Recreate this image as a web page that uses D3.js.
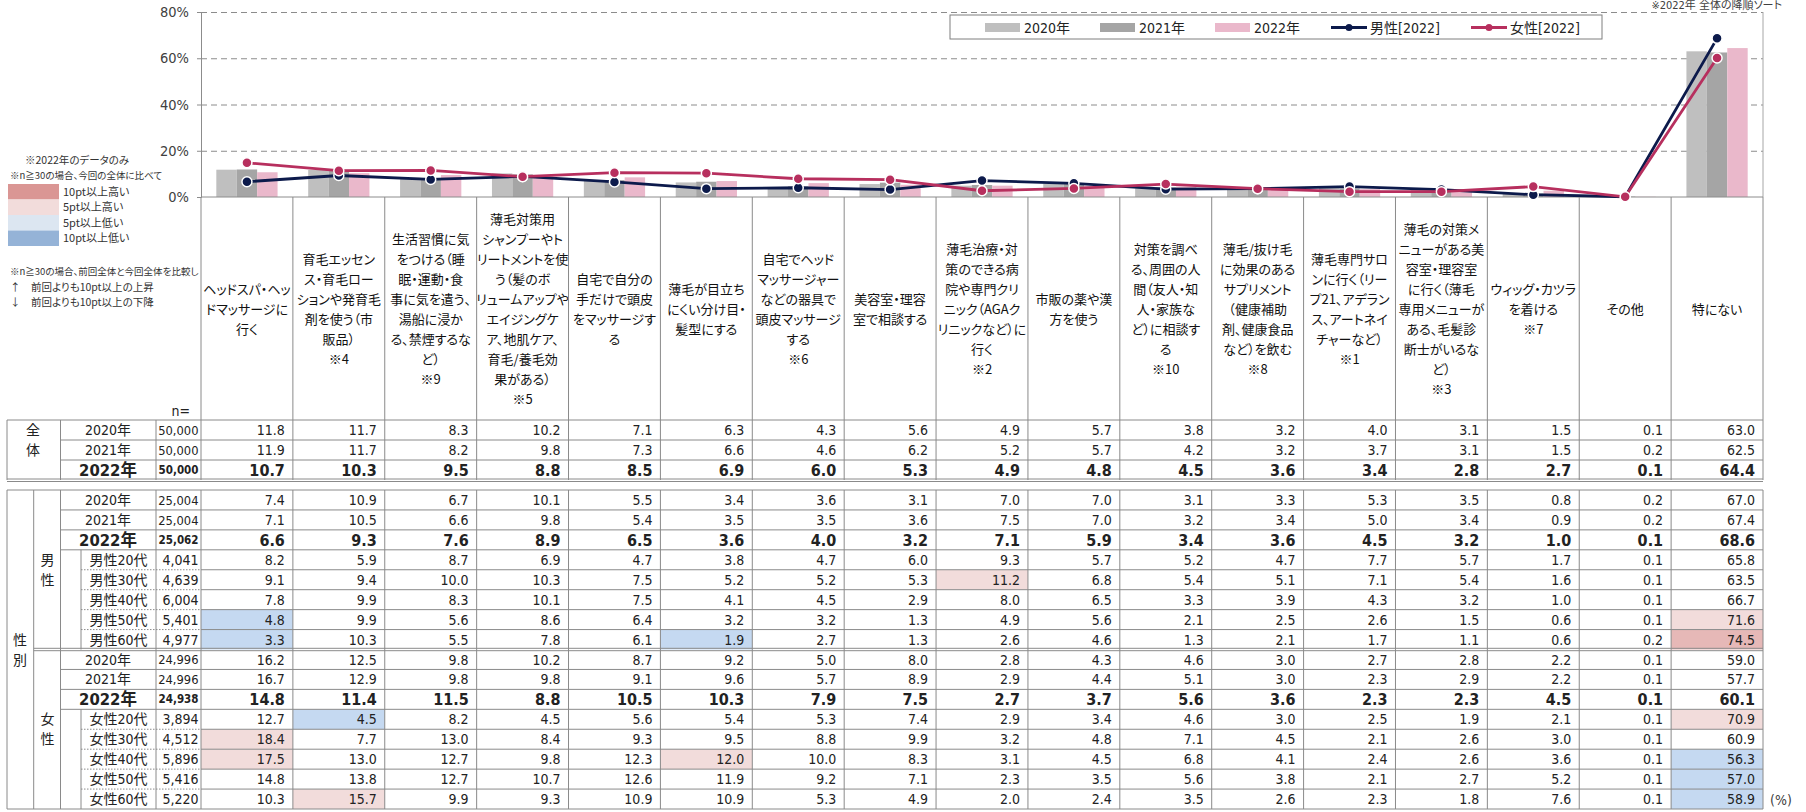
<!DOCTYPE html>
<html><head><meta charset="utf-8">
<script src="https://cdn.jsdelivr.net/npm/d3@7"></script>
<style>
body{margin:0;background:#fff;}
svg{display:block;font-feature-settings:"palt";}
</style></head><body>
<svg id="c" width="1806" height="812"></svg>
<script>
// ---------------- DATA ----------------
const categories = [
  "ヘッドスパ・ヘッ\nドマッサージに\n行く",
  "育毛エッセン\nス・育毛ロー\nションや発育毛\n剤を使う（市\n販品）\n※4",
  "生活習慣に気\nをつける（睡\n眠・運動・食\n事に気を遣う、\n湯船に浸か\nる、禁煙するな\nど）\n※9",
  "薄毛対策用\nシャンプーやト\nリートメントを使\nう（髪のボ\nリュームアップや\nエイジングケ\nア、地肌ケア、\n育毛/養毛効\n果がある）\n※5",
  "自宅で自分の\n手だけで頭皮\nをマッサージす\nる",
  "薄毛が目立ち\nにくい分け目・\n髪型にする",
  "自宅でヘッド\nマッサージャー\nなどの器具で\n頭皮マッサージ\nする\n※6",
  "美容室・理容\n室で相談する",
  "薄毛治療・対\n策のできる病\n院や専門クリ\nニック（AGAク\nリニックなど）に\n行く\n※2",
  "市販の薬や漢\n方を使う",
  "対策を調べ\nる、周囲の人\n間（友人・知\n人・家族な\nど）に相談す\nる\n※10",
  "薄毛/抜け毛\nに効果のある\nサプリメント\n（健康補助\n剤、健康食品\nなど）を飲む\n※8",
  "薄毛専門サロ\nンに行く（リー\nプ21、アデラン\nス、アートネイ\nチャーなど）\n※1",
  "薄毛の対策メ\nニューがある美\n容室・理容室\nに行く（薄毛\n専用メニューが\nある、毛髪診\n断士がいるな\nど）\n※3",
  "ウィッグ・カツラ\nを着ける\n※7",
  "その他",
  "特にない"
];
const barYears = ["2020年","2021年","2022年"];
const yTicks = [0,20,40,60,80];

const total2020 = [11.8,11.7,8.3,10.2,7.1,6.3,4.3,5.6,4.9,5.7,3.8,3.2,4.0,3.1,1.5,0.1,63.0];
const total2021 = [11.9,11.7,8.2,9.8,7.3,6.6,4.6,6.2,5.2,5.7,4.2,3.2,3.7,3.1,1.5,0.2,62.5];
const total2022 = [10.7,10.3,9.5,8.8,8.5,6.9,6.0,5.3,4.9,4.8,4.5,3.6,3.4,2.8,2.7,0.1,64.4];

const male2020 = [7.4,10.9,6.7,10.1,5.5,3.4,3.6,3.1,7.0,7.0,3.1,3.3,5.3,3.5,0.8,0.2,67.0];
const male2021 = [7.1,10.5,6.6,9.8,5.4,3.5,3.5,3.6,7.5,7.0,3.2,3.4,5.0,3.4,0.9,0.2,67.4];
const male2022 = [6.6,9.3,7.6,8.9,6.5,3.6,4.0,3.2,7.1,5.9,3.4,3.6,4.5,3.2,1.0,0.1,68.6];
const male20s = [8.2,5.9,8.7,6.9,4.7,3.8,4.7,6.0,9.3,5.7,5.2,4.7,7.7,5.7,1.7,0.1,65.8];
const male30s = [9.1,9.4,10.0,10.3,7.5,5.2,5.2,5.3,11.2,6.8,5.4,5.1,7.1,5.4,1.6,0.1,63.5];
const male40s = [7.8,9.9,8.3,10.1,7.5,4.1,4.5,2.9,8.0,6.5,3.3,3.9,4.3,3.2,1.0,0.1,66.7];
const male50s = [4.8,9.9,5.6,8.6,6.4,3.2,3.2,1.3,4.9,5.6,2.1,2.5,2.6,1.5,0.6,0.1,71.6];
const male60s = [3.3,10.3,5.5,7.8,6.1,1.9,2.7,1.3,2.6,4.6,1.3,2.1,1.7,1.1,0.6,0.2,74.5];

const female2020 = [16.2,12.5,9.8,10.2,8.7,9.2,5.0,8.0,2.8,4.3,4.6,3.0,2.7,2.8,2.2,0.1,59.0];
const female2021 = [16.7,12.9,9.8,9.8,9.1,9.6,5.7,8.9,2.9,4.4,5.1,3.0,2.3,2.9,2.2,0.1,57.7];
const female2022 = [14.8,11.4,11.5,8.8,10.5,10.3,7.9,7.5,2.7,3.7,5.6,3.6,2.3,2.3,4.5,0.1,60.1];
const female20s = [12.7,4.5,8.2,4.5,5.6,5.4,5.3,7.4,2.9,3.4,4.6,3.0,2.5,1.9,2.1,0.1,70.9];
const female30s = [18.4,7.7,13.0,8.4,9.3,9.5,8.8,9.9,3.2,4.8,7.1,4.5,2.1,2.6,3.0,0.1,60.9];
const female40s = [17.5,13.0,12.7,9.8,12.3,12.0,10.0,8.3,3.1,4.5,6.8,4.1,2.4,2.6,3.6,0.1,56.3];
const female50s = [14.8,13.8,12.7,10.7,12.6,11.9,9.2,7.1,2.3,3.5,5.6,3.8,2.1,2.7,5.2,0.1,57.0];
const female60s = [10.3,15.7,9.9,9.3,10.9,10.9,5.3,4.9,2.0,2.4,3.5,2.6,2.3,1.8,7.6,0.1,58.9];

const totalN = ["50,000","50,000","50,000"];
const maleN = ["25,004","25,004","25,062","4,041","4,639","6,004","5,401","4,977"];
const femaleN = ["24,996","24,996","24,938","3,894","4,512","5,896","5,416","5,220"];
const yearLabels = ["2020年","2021年","2022年"];
const maleAgeLabels = ["男性20代","男性30代","男性40代","男性50代","男性60代"];
const femaleAgeLabels = ["女性20代","女性30代","女性40代","女性50代","女性60代"];

// highlighted cells: [row label, category index, level]
const highlights = [
  ["男性30代",8,"up5"],
  ["男性50代",0,"down5"],["男性50代",16,"up5"],
  ["男性60代",0,"down5"],["男性60代",5,"down5"],["男性60代",16,"up10"],
  ["女性20代",1,"down5"],["女性20代",16,"up5"],
  ["女性30代",0,"up5"],
  ["女性40代",0,"up5"],["女性40代",5,"up5"],["女性40代",16,"down5"],
  ["女性50代",16,"down5"],
  ["女性60代",1,"up5"],["女性60代",16,"down5"]
];
const keyLabels = ["10pt以上高い","5pt以上高い","5pt以上低い","10pt以上低い"];

// ---------------- STYLE ----------------
const numFont = "'DejaVu Sans Condensed','DejaVu Sans','Noto Sans CJK JP',sans-serif";
const jpFont = "'Noto Sans CJK JP',sans-serif";
const barColors = {"2020年":"#bfbfbf","2021年":"#a5a5a5","2022年":"#eab8cb"};
const maleColor = "#0c1a4b", femaleColor = "#b72f5e";
const gridColor = "#8c8c8c", tableLine = "#8a8a8a";
const cellFill = {up10:"#e6b8b7", up5:"#f2dcdb", down5:"#c5d9f1"};
const keyFill = ["#da9694","#f2dcdb","#dce6f1","#95b3d7"];

const svg = d3.select("#c");
const X0 = 201, X1 = 1763;
const x = d3.scaleBand().domain(d3.range(categories.length)).range([X0, X1]);
const xs = d3.scaleBand().domain(barYears).range([0, x.bandwidth()]).paddingOuter(0.75);
const y = d3.scaleLinear().domain([0,80]).range([197,12]);

// ---------- top note ----------
svg.append("text").attr("x",1782).attr("y",9).attr("text-anchor","end")
  .attr("font-family",numFont).attr("font-size",11).attr("fill","#404040")
  .text("※2022年 全体の降順ソート");

// ---------- grid ----------
const grid = svg.append("g")
  .attr("transform",`translate(${X0},0)`)
  .call(d3.axisLeft(y).tickValues(yTicks.filter(t=>t>0)).tickSize(-(X1-X0)).tickFormat(""));
grid.select(".domain").remove();
grid.selectAll("line").attr("stroke",gridColor).attr("stroke-dasharray","6,4").attr("stroke-width",1);

// bars
const series = [total2020,total2021,total2022];
barYears.forEach((yr,k)=>{
  svg.append("g").selectAll("rect").data(series[k]).join("rect")
    .attr("x",(d,i)=>x(i)+xs(yr)).attr("width",xs.bandwidth())
    .attr("y",d=>y(d)).attr("height",d=>y(0)-y(d))
    .attr("fill",barColors[yr]);
});

// y axis
const yAxis = svg.append("g").attr("transform",`translate(${X0},0)`)
  .call(d3.axisLeft(y).tickValues(yTicks).tickSize(4).tickPadding(8).tickFormat(d=>d+"%"));
yAxis.select(".domain").attr("stroke","#8c8c8c");
yAxis.selectAll("line").attr("stroke","#8c8c8c");
yAxis.selectAll("text").attr("font-family",numFont).attr("font-size",14.5).attr("fill","#404040");

// right border & baseline
svg.append("line").attr("x1",X1).attr("x2",X1).attr("y1",y(80)).attr("y2",y(0)).attr("stroke","#a6a6a6");
svg.append("line").attr("x1",X0).attr("x2",X1).attr("y1",y(0)).attr("y2",y(0)).attr("stroke","#8c8c8c");

// lines
function drawLine(vals,color){
  const ln = d3.line().x((d,i)=>x(i)+x.bandwidth()/2).y(d=>y(d));
  svg.append("path").datum(vals).attr("d",ln).attr("fill","none").attr("stroke",color).attr("stroke-width",2.8);
  svg.append("g").selectAll("circle").data(vals).join("circle")
    .attr("cx",(d,i)=>x(i)+x.bandwidth()/2).attr("cy",d=>y(d)).attr("r",5)
    .attr("fill",color).attr("stroke","#fff").attr("stroke-width",1.5);
}
drawLine(male2022,maleColor);
drawLine(female2022,femaleColor);

// legend
const lg = svg.append("g");
lg.append("rect").attr("x",950).attr("y",15).attr("width",652).attr("height",24)
  .attr("fill","#fff").attr("stroke","#7f7f7f");
const legendItems = [
  {t:"bar",c:barColors["2020年"],x:985,label:"2020年"},
  {t:"bar",c:barColors["2021年"],x:1100,label:"2021年"},
  {t:"bar",c:barColors["2022年"],x:1215,label:"2022年"},
  {t:"line",c:maleColor,x:1331,label:"男性[2022]"},
  {t:"line",c:femaleColor,x:1471,label:"女性[2022]"}
];
legendItems.forEach(it=>{
  if(it.t==="bar"){
    lg.append("rect").attr("x",it.x).attr("y",23).attr("width",35).attr("height",9).attr("fill",it.c);
  } else {
    lg.append("line").attr("x1",it.x).attr("x2",it.x+36).attr("y1",27.5).attr("y2",27.5).attr("stroke",it.c).attr("stroke-width",2.8);
    lg.append("circle").attr("cx",it.x+18).attr("cy",27.5).attr("r",3.5).attr("fill",it.c);
  }
  lg.append("text").attr("x",it.x+39).attr("y",27.5).attr("dy","0.36em")
    .attr("font-family",numFont).attr("font-size",14).attr("fill","#222").text(it.label);
});

// ---------- left notes ----------
const notes = svg.append("g").attr("font-family",jpFont).attr("fill","#333");
notes.append("text").attr("x",25).attr("y",160).attr("dy","0.35em").attr("font-size",10.5).text("※2022年のデータのみ");
notes.append("text").attr("x",10).attr("y",176).attr("dy","0.35em").attr("font-size",9.5).text("※n≧30の場合、今回の全体に比べて");
keyLabels.forEach((k,i)=>{
  const yy = 184 + i*15.5;
  notes.append("rect").attr("x",8).attr("y",yy).attr("width",51).attr("height",15.5).attr("fill",keyFill[i]);
  notes.append("text").attr("x",63).attr("y",yy+8).attr("dy","0.35em").attr("font-size",11).text(k);
});
notes.append("text").attr("x",10).attr("y",272).attr("dy","0.35em").attr("font-size",9.5).text("※n≧30の場合、前回全体と今回全体を比較し");
notes.append("text").attr("x",10).attr("y",287).attr("dy","0.35em").attr("font-size",10.5).text("↑　前回よりも10pt以上の上昇");
notes.append("text").attr("x",10).attr("y",302).attr("dy","0.35em").attr("font-size",10.5).text("↓　前回よりも10pt以上の下降");

// ---------- header ----------
const HT = 197, HB = 420;
const hdr = svg.append("g");
categories.forEach((c,i)=>{
  const lines = c.split("\n");
  const cx = x(i)+x.bandwidth()/2;
  const t = hdr.append("text").attr("text-anchor","middle").attr("font-family",jpFont)
    .attr("font-size",13).attr("fill","#111");
  lines.forEach((l,j)=>{
    t.append("tspan").attr("x",cx).attr("y",309 + (j-(lines.length-1)/2)*20).attr("dy","0.35em").text(l);
  });
});
svg.append("text").attr("x",190).attr("y",411).attr("dy","0.35em").attr("text-anchor","end")
  .attr("font-family",numFont).attr("font-size",14).attr("fill","#222").text("n=");

// ---------- table ----------
const T = svg.append("g");
const L = {outer:7, c1:33.7, c2:60.5, c3:81, c4:156, c5:X0};
const rowsTotal = yearLabels.map((yl,i)=>({label:yl,n:totalN[i],vals:series[i],bold:i===2,age:false}));
const maleVals = [male2020,male2021,male2022,male20s,male30s,male40s,male50s,male60s];
const femaleVals = [female2020,female2021,female2022,female20s,female30s,female40s,female50s,female60s];
const mkRows = (vals,ns,ages)=>vals.map((v,i)=>({label:i<3?yearLabels[i]:ages[i-3],n:ns[i],vals:v,bold:i===2,age:i>=3}));
const rowsMale = mkRows(maleVals,maleN,maleAgeLabels);
const rowsFemale = mkRows(femaleVals,femaleN,femaleAgeLabels);

const totTop = 420, totH = 20;
const sexTop = 490, rowH = (809-490)/16;
const allRows = [];
rowsTotal.forEach((r,i)=>allRows.push({...r,y:totTop+i*totH,h:totH}));
rowsMale.concat(rowsFemale).forEach((r,i)=>allRows.push({...r,y:sexTop+i*rowH,h:rowH}));

// highlight fills
allRows.forEach(r=>{
  highlights.filter(h=>h[0]===r.label).forEach(h=>{
    T.append("rect").attr("x",x(h[1])).attr("y",r.y).attr("width",x.bandwidth()).attr("height",r.h)
      .attr("fill",cellFill[h[2]]);
  });
});

function hline(x1,x2,yy,dash){
  T.append("line").attr("x1",x1).attr("x2",x2).attr("y1",yy).attr("y2",yy)
   .attr("stroke",tableLine).attr("stroke-width",1).attr("stroke-dasharray",dash||null);
}
function vline(xx,y1,y2){
  T.append("line").attr("x1",xx).attr("x2",xx).attr("y1",y1).attr("y2",y2).attr("stroke",tableLine).attr("stroke-width",1);
}

// header column lines
d3.range(categories.length+1).forEach(i=>{
  const xx = i<categories.length ? x(i) : X1;
  vline(xx,HT,HB);
  vline(xx,totTop,totTop+3*totH);
  vline(xx,sexTop,809);
});
// total block
hline(L.outer,X1,totTop);
hline(L.c2,X1,totTop+totH);
hline(L.c2,X1,totTop+2*totH);
hline(L.outer,X1,479); hline(L.outer,X1,481.5);
[L.outer,L.c2,L.c4].forEach(xx=>vline(xx,totTop,480));
// sex block
hline(L.outer,X1,sexTop);
[0,1].forEach(b=>{
  const base = sexTop + b*8*rowH;
  for(let k=1;k<8;k++){
    const yy = base+k*rowH;
    if(k<=3) hline(L.c2,X1,yy);
    else { hline(L.c3,X0,yy,"1.5,1.5"); hline(X0,X1,yy); }
  }
  vline(L.c3,base+3*rowH,base+8*rowH);
});
hline(L.c1,X1,sexTop+8*rowH-1.2); hline(L.c1,X1,sexTop+8*rowH+1.2);
hline(L.outer,X1,809);
[L.outer,L.c1,L.c2,L.c4].forEach(xx=>vline(xx,sexTop,809));

// group labels
function vlabel(chars,cx,cy){
  chars.forEach((ch,j)=>{
    T.append("text").attr("x",cx).attr("y",cy+(j-(chars.length-1)/2)*20).attr("dy","0.35em")
      .attr("text-anchor","middle").attr("font-family",jpFont).attr("font-size",14).attr("fill","#222").text(ch);
  });
}
vlabel(["全","体"],33,440);
vlabel(["性","別"],20,650);
vlabel(["男","性"],47.5,sexTop+4*rowH);
vlabel(["女","性"],47.5,sexTop+12*rowH);

// rows
allRows.forEach(r=>{
  const cy = r.y + r.h/2;
  T.append("text").attr("x",r.age?118.5:108).attr("y",cy).attr("dy","0.36em").attr("text-anchor","middle")
    .attr("font-family",numFont).attr("font-size",r.bold?16.5:14).attr("font-weight",r.bold?"bold":"normal")
    .attr("fill","#222").text(r.label);
  T.append("text").attr("x",X0-2.5).attr("y",cy).attr("dy","0.36em").attr("text-anchor","end")
    .attr("font-family",numFont).attr("font-size",r.bold?11.5:(r.age?14:12.8)).attr("font-weight",r.bold?"bold":"normal")
    .attr("fill","#222").text(r.n);
  T.append("g").selectAll("text").data(r.vals).join("text")
    .attr("x",(d,i)=>x(i)+x.bandwidth()-8).attr("y",cy).attr("dy","0.36em").attr("text-anchor","end")
    .attr("font-family",numFont).attr("font-size",r.bold?16:14).attr("font-weight",r.bold?"bold":"normal")
    .attr("fill","#222").text(d=>d.toFixed(1));
});

svg.append("text").attr("x",1770).attr("y",800).attr("dy","0.36em")
  .attr("font-family",numFont).attr("font-size",14).attr("fill","#404040").text("(%)");
</script>
</body></html>
